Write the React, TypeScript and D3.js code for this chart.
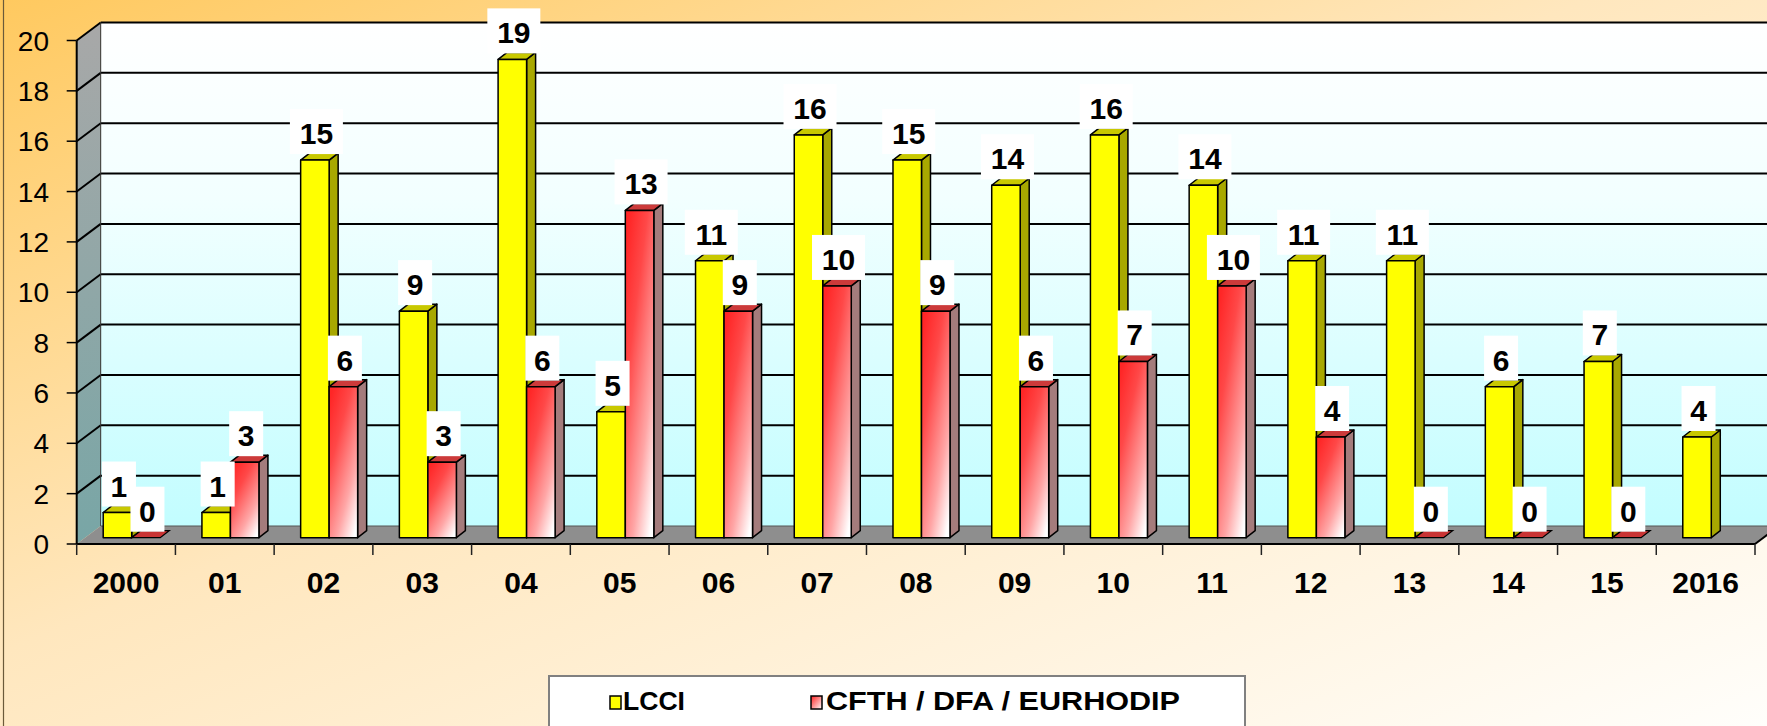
import React, { useEffect } from 'react';
import * as d3 from 'd3';

const categories = ['2000', '01', '02', '03', '04', '05', '06', '07', '08', '09', '10', '11', '12', '13', '14', '15', '2016'];
const seriesNames = ['LCCI', 'CFTH / DFA / EURHODIP'];
const lcci = [1, 1, 15, 9, 19, 5, 11, 16, 15, 14, 16, 14, 11, 11, 6, 7, 4];
const cfth: (number | null)[] = [0, 3, 6, 3, 6, 13, 9, 10, 9, 6, 7, 10, 4, 0, 0, 0, null];
const yTicks = [0, 2, 4, 6, 8, 10, 12, 14, 16, 18, 20];

const W = 1767;
const H = 726;
const FONT = 'Arial, "Liberation Sans", sans-serif';

// depth offsets of the 3d look
const wallDx = 24;
const wallDy = -18;
const barOffY = -6.3;
const barDx = 9;
const barDy = -7;

export default function App() {
  useEffect(() => {
    document.body.style.margin = '0';
    document.body.style.overflow = 'hidden';
  }, []);

  const x = d3.scaleBand<string>().domain(categories).range([76.7, 1755]).padding(0);
  const xs = d3.scaleBand<string>().domain(seriesNames).range([26.5, 83.5]).padding(0);
  const y = d3.scaleLinear().domain([0, 20]).range([544, 40.5]);

  const x0 = x.range()[0];
  const x1 = x.range()[1];
  const y0 = y(0);
  const yTop = y(20);

  const poly = (pts: [number, number][]) => pts.map((p) => p.join(',')).join(' ');

  const bars: { cat: string; s: number; v: number }[] = [];
  categories.forEach((c, i) => {
    bars.push({ cat: c, s: 0, v: lcci[i] });
    if (cfth[i] !== null) bars.push({ cat: c, s: 1, v: cfth[i] as number });
  });

  const barGeom = (b: { cat: string; s: number; v: number }) => {
    const left = (x(b.cat) as number) + (xs(seriesNames[b.s]) as number);
    const bw = xs.bandwidth();
    const bottom = y0 + barOffY;
    const top = y(b.v) + barOffY;
    return { left, bw, bottom, top };
  };

  return (
    <svg width={W} height={H} style={{ position: 'absolute', left: 0, top: 0, display: 'block' }}>
      <defs>
        <linearGradient id="bg" x1="0" y1="0" x2="1" y2="1">
          <stop offset="0" stopColor="#FFC95F" />
          <stop offset="0.45" stopColor="#FFE7BE" />
          <stop offset="1" stopColor="#FFFEFB" />
        </linearGradient>
        <linearGradient id="wall" x1="0" y1="0" x2="0" y2="1">
          <stop offset="0" stopColor="#FFFFFF" />
          <stop offset="0.35" stopColor="#F2FFFF" />
          <stop offset="1" stopColor="#C2FDFF" />
        </linearGradient>
        <linearGradient id="side" x1="0" y1="0" x2="0" y2="1">
          <stop offset="0" stopColor="#A8A8A8" />
          <stop offset="1" stopColor="#78A6A6" />
        </linearGradient>
        <linearGradient id="redFront" x1="0.15" y1="0" x2="0.85" y2="1">
          <stop offset="0" stopColor="#FF2626" />
          <stop offset="0.3" stopColor="#FF4848" />
          <stop offset="0.72" stopColor="#FFA6A6" />
          <stop offset="1" stopColor="#FFFFFF" />
        </linearGradient>
        <linearGradient id="redSwatch" x1="0" y1="0" x2="1" y2="1">
          <stop offset="0" stopColor="#FF2020" />
          <stop offset="1" stopColor="#FFFFFF" />
        </linearGradient>
      </defs>

      <rect x={0} y={0} width={W} height={H} fill="url(#bg)" />
      <line x1={3.5} y1={0} x2={3.5} y2={H} stroke="#6b5a3a" strokeWidth={1.2} />

      {/* back wall */}
      <rect x={x0 + wallDx} y={yTop + wallDy} width={x1 - x0} height={y0 - yTop} fill="url(#wall)" />
      {/* left side wall */}
      <polygon
        points={poly([[x0, y0], [x0, yTop], [x0 + wallDx, yTop + wallDy], [x0 + wallDx, y0 + wallDy]])}
        fill="url(#side)"
      />
      {/* floor */}
      <polygon
        points={poly([[x0, y0], [x1, y0], [x1 + wallDx, y0 + wallDy], [x0 + wallDx, y0 + wallDy]])}
        fill="#8E8E8E"
      />

      {/* gridlines */}
      {yTicks.filter((t) => t > 0).map((t) => (
        <g key={'g' + t}>
          <line x1={x0} y1={y(t)} x2={x0 + wallDx} y2={y(t) + wallDy} stroke="#000" strokeWidth={2} />
          <line x1={x0 + wallDx} y1={y(t) + wallDy} x2={W} y2={y(t) + wallDy} stroke="#000" strokeWidth={2} />
        </g>
      ))}
      <line x1={x0 + wallDx} y1={yTop + wallDy} x2={x0 + wallDx} y2={y0 + wallDy} stroke="#333" strokeWidth={1} />
      <line x1={x0 + wallDx} y1={y0 + wallDy} x2={W} y2={y0 + wallDy} stroke="#555" strokeWidth={1} />

      {/* axes */}
      <line x1={x0} y1={yTop} x2={x0} y2={y0} stroke="#000" strokeWidth={2} />
      <line x1={x0} y1={y0} x2={x1} y2={y0} stroke="#000" strokeWidth={2} />
      <line x1={x1} y1={y0} x2={x1 + wallDx} y2={y0 + wallDy} stroke="#000" strokeWidth={2} />
      {yTicks.map((t) => (
        <g key={'yt' + t}>
          <line x1={x0 - 10} y1={y(t)} x2={x0} y2={y(t)} stroke="#000" strokeWidth={1.5} />
          <text x={49} y={y(t)} dy="0.36em" textAnchor="end" fontFamily={FONT} fontSize={28} fill="#000">
            {t}
          </text>
        </g>
      ))}
      {categories.concat(['_end']).map((c, i) => {
        const xx = i < categories.length ? (x(c) as number) : x1;
        return <line key={'xt' + i} x1={xx} y1={y0} x2={xx} y2={y0 + 11} stroke="#222" strokeWidth={1.5} />;
      })}
      {categories.map((c) => (
        <text
          key={'xl' + c}
          x={(x(c) as number) + x.bandwidth() / 2}
          y={593}
          textAnchor="middle"
          fontFamily={FONT}
          fontWeight="bold"
          fontSize={30}
          fill="#000"
        >
          {c}
        </text>
      ))}

      {/* bars */}
      {bars.map((b, i) => {
        const { left, bw, bottom, top } = barGeom(b);
        const right = left + bw;
        const yellow = b.s === 0;
        if (b.v === 0) {
          return (
            <polygon
              key={'b' + i}
              points={poly([[left, bottom], [right, bottom], [right + barDx, bottom + barDy], [left + barDx, bottom + barDy]])}
              fill="#C93434"
              stroke="#000"
              strokeWidth={1.3}
            />
          );
        }
        return (
          <g key={'b' + i} stroke="#000" strokeWidth={1.5} strokeLinejoin="round">
            <polygon
              points={poly([[right, bottom], [right, top], [right + barDx, top + barDy], [right + barDx, bottom + barDy]])}
              fill={yellow ? '#A8A800' : '#A47C7C'}
            />
            <polygon
              points={poly([[left, top], [right, top], [right + barDx, top + barDy], [left + barDx, top + barDy]])}
              fill={yellow ? '#C8C800' : '#CC3A3A'}
            />
            <rect x={left} y={top} width={bw} height={bottom - top} fill={yellow ? '#FFFF00' : 'url(#redFront)'} />
          </g>
        );
      })}

      {/* value labels */}
      {bars.map((b, i) => {
        const { left, bw, top } = barGeom(b);
        const cx = left + bw / 2 + 1.5;
        const label = String(b.v);
        const boxW = label.length === 1 ? 34 : 53;
        const boxBottom = top - 6;
        return (
          <g key={'l' + i}>
            <rect x={cx - boxW / 2} y={boxBottom - 45} width={boxW} height={45} fill="#FFFFFF" />
            <text
              x={cx}
              y={boxBottom - 10}
              textAnchor="middle"
              fontFamily={FONT}
              fontWeight="bold"
              fontSize={30}
              fill="#000"
            >
              {label}
            </text>
          </g>
        );
      })}

      {/* legend */}
      <rect x={549} y={676} width={696} height={70} fill="#FFFFFF" stroke="#808080" strokeWidth={2} />
      <rect x={610} y={696} width={11} height={13} fill="#FFFF00" stroke="#000" strokeWidth={1.5} />
      <text x={623} y={710} fontFamily={FONT} fontWeight="bold" fontSize={25} textLength={62} lengthAdjust="spacingAndGlyphs" fill="#000">
        {seriesNames[0]}
      </text>
      <rect x={811} y={696} width={11} height={13} fill="url(#redSwatch)" stroke="#000" strokeWidth={1.5} />
      <text x={826} y={710} fontFamily={FONT} fontWeight="bold" fontSize={25} textLength={354} lengthAdjust="spacingAndGlyphs" fill="#000">
        {seriesNames[1]}
      </text>
    </svg>
  );
}
